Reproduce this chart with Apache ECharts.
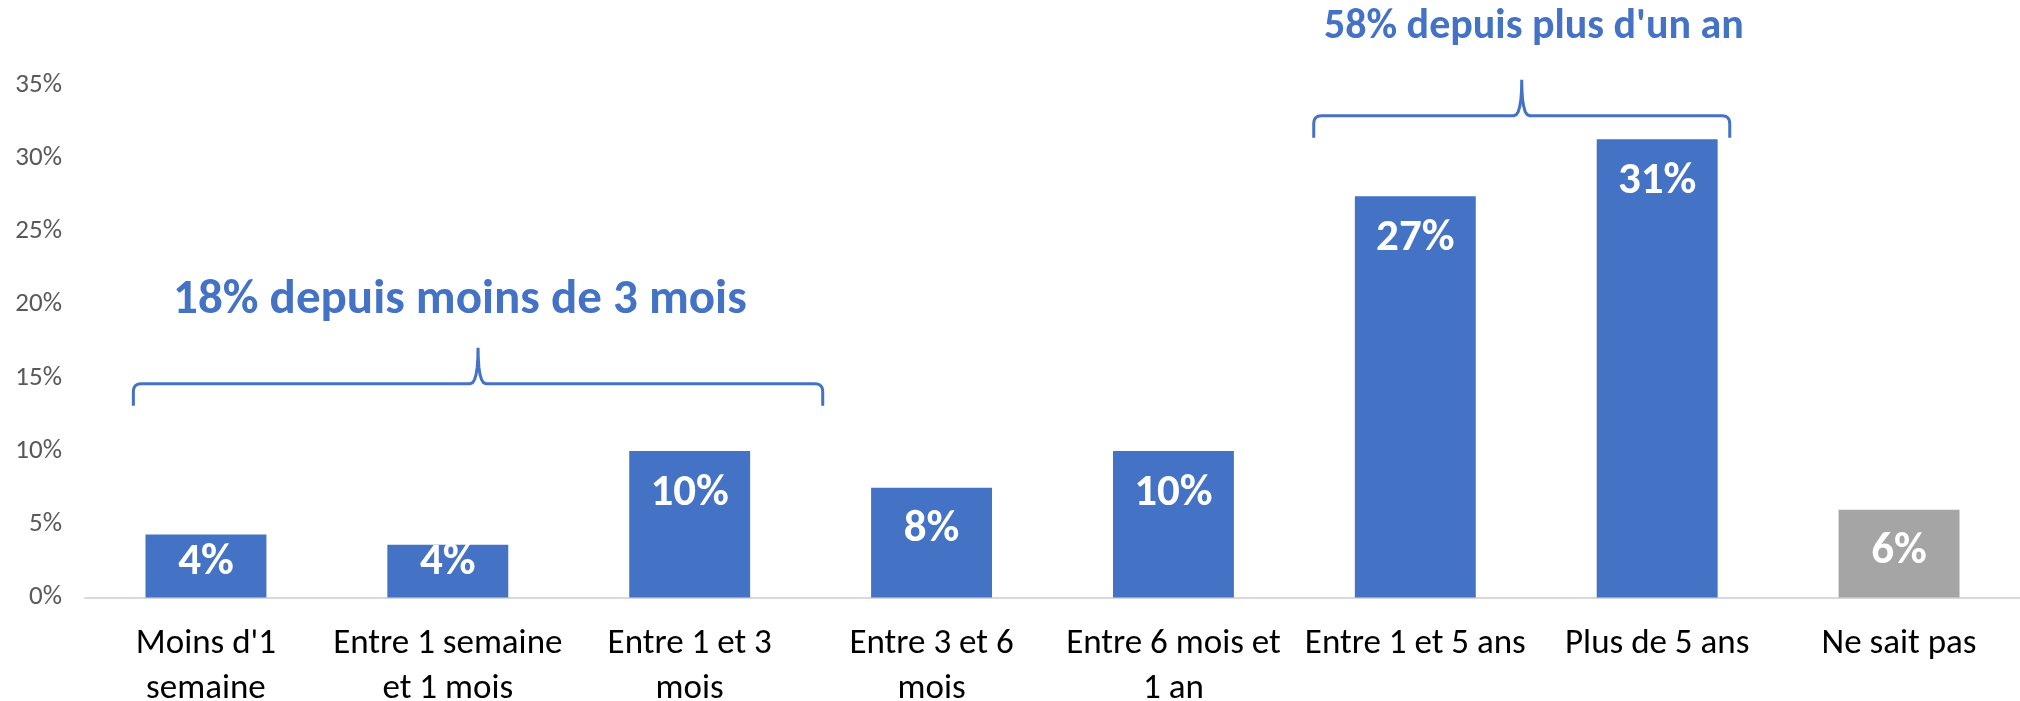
<!DOCTYPE html>
<html>
<head>
<meta charset="utf-8">
<script src="https://cdn.jsdelivr.net/npm/echarts@6/dist/echarts.min.js"></script>
<style>
  html, body { margin: 0; padding: 0; background: #fff; }
  #chart { width: 2020px; height: 701px; }
</style>
</head>
<body>
<div id="chart"></div>
<script>
// data
const categories = [
  "Moins d'1\nsemaine",
  'Entre 1 semaine\net 1 mois',
  'Entre 1 et 3\nmois',
  'Entre 3 et 6\nmois',
  'Entre 6 mois et\n1 an',
  'Entre 1 et 5 ans',
  'Plus de 5 ans',
  'Ne sait pas'
]
const values = [4.3, 3.6, 10.0, 7.5, 10.0, 27.4, 31.3, 6.0]
const barColors = ['#4472C4', '#4472C4', '#4472C4', '#4472C4', '#4472C4', '#4472C4', '#4472C4', '#A5A5A5']
const yTicks = [0, 5, 10, 15, 20, 25, 30, 35]

// annotations (brace groups)
const groupTexts = ['18% depuis moins de 3 mois', '58% depuis plus d\'un an']
const groupFrom = [-0.30, 4.58]   // category units
const groupTo = [2.55, 6.30]
const groupLevel = [14.6, 32.9]   // value of the horizontal stroke
const groupTextLevel = [20.3, 38.9]
const groupTextShift = [-0.075, 0.05]
const groupTextSize = [49, 42]

const FONT = 'Carlito, Lato, "Open Sans", sans-serif'
const BLUE = '#4472C4'

const myChart = echarts.init(document.getElementById('chart'))

const seriesData = values.map((v, i) => ({
  value: v,
  itemStyle: { color: barColors[i] },
  // short bars: keep the label off the baseline like the original
  label: v < 5 ? { position: 'insideBottom', distance: 12 } : {}
}))

const myOption = {
  animation: false,
  backgroundColor: '#fff',
  grid: {
    left: 85,
    right: 0,
    top: 85,
    bottom: 103.5,
    outerBoundsMode: 'none'
  },
  xAxis: {
    type: 'category',
    data: categories,
    axisLine: { lineStyle: { color: '#D9D9D9', width: 2 } },
    axisTick: { show: false },
    axisLabel: {
      interval: 0,
      color: '#000',
      fontFamily: FONT,
      fontSize: 35,
      lineHeight: 45,
      margin: 24
    }
  },
  yAxis: {
    type: 'value',
    min: yTicks[0],
    max: yTicks[yTicks.length - 1],
    interval: 5,
    splitLine: { show: false },
    axisLine: { show: false },
    axisTick: { show: false },
    axisLabel: {
      formatter: '{value}%',
      color: '#595959',
      fontFamily: FONT,
      fontSize: 27,
      margin: 23
    }
  },
  series: [{
    type: 'bar',
    barWidth: '50%',
    data: seriesData,
    label: {
      show: true,
      position: 'insideTop',
      distance: 20,
      color: '#fff',
      fontFamily: FONT,
      fontWeight: 'bold',
      fontSize: 45,
      formatter: (p) => Math.round(p.value) + '%'
    }
  }]
}
myChart.setOption(myOption)

// braces + group titles, placed through the axes
const toPx = (cat, val) => {
  const a = myChart.convertToPixel({ gridIndex: 0 }, [0, val])
  const b = myChart.convertToPixel({ gridIndex: 0 }, [1, val])
  return [a[0] + cat * (b[0] - a[0]), a[1]]
}
// quadratic curve points
const quad = (p0, p1, p2, n) => {
  const pts = []
  for (let k = 1; k <= n; k++) {
    const t = k / n
    pts.push([
      (1 - t) * (1 - t) * p0[0] + 2 * (1 - t) * t * p1[0] + t * t * p2[0],
      (1 - t) * (1 - t) * p0[1] + 2 * (1 - t) * t * p1[1] + t * t * p2[1]
    ])
  }
  return pts
}
const graphics = []
groupTexts.forEach((t, i) => {
  const [x0, yH] = toPx(groupFrom[i], groupLevel[i])
  const [x1] = toPx(groupTo[i], groupLevel[i])
  const xc = (x0 + x1) / 2
  const yEnd = yH + 22
  const yTop = yH - 36
  const r = 8
  let pts = [[x0, yEnd], [x0, yH + r]]
  pts = pts.concat(quad([x0, yH + r], [x0, yH], [x0 + r, yH], 6))
  pts.push([xc - r, yH])
  pts = pts.concat(quad([xc - r, yH], [xc, yH], [xc, yTop], 6))
  pts = pts.concat(quad([xc, yTop], [xc, yH], [xc + r, yH], 6))
  pts.push([x1 - r, yH])
  pts = pts.concat(quad([x1 - r, yH], [x1, yH], [x1, yH + r], 6))
  pts.push([x1, yEnd])
  graphics.push({
    type: 'polyline',
    shape: { points: pts },
    style: { fill: null, stroke: BLUE, lineWidth: 3 }
  })
  const mid = (groupFrom[i] + groupTo[i]) / 2 + groupTextShift[i]
  const [tx, ty] = toPx(mid, groupTextLevel[i])
  graphics.push({
    type: 'text',
    x: tx,
    y: ty,
    style: {
      text: t,
      fill: BLUE,
      font: 'bold ' + groupTextSize[i] + 'px ' + FONT,
      textAlign: 'center',
      textVerticalAlign: 'middle'
    }
  })
})
myChart.setOption({ graphic: graphics })
</script>
</body>
</html>
